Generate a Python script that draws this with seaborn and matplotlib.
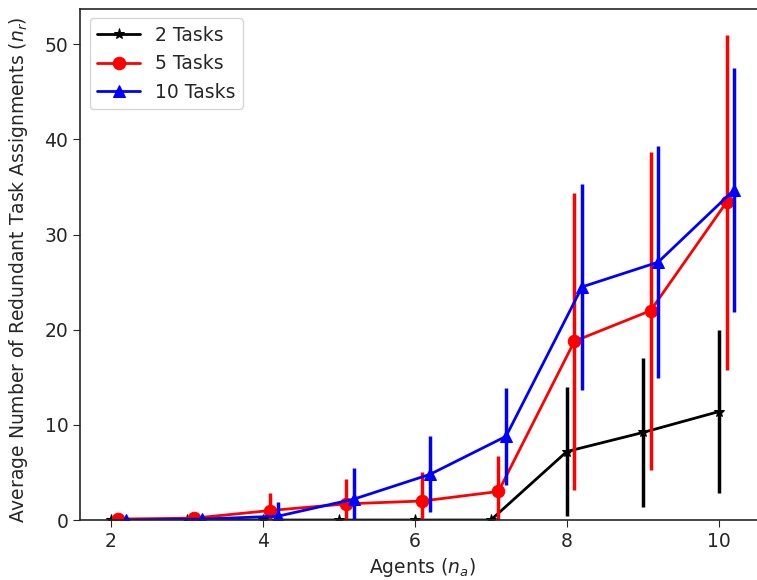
import matplotlib
matplotlib.use("Agg")
import matplotlib.pyplot as plt
import numpy as np
import pandas as pd
import seaborn as sns

agents = [2, 3, 4, 5, 6, 7, 8, 9, 10]

tasks_2 = [0.0, 0.0, 0.0, 0.0, 0.0, 0.0, 7.2, 9.2, 11.4]
tasks_2_err = [0.0, 0.0, 0.0, 0.0, 0.0, 0.0, 6.8, 7.8, 8.6]

tasks_5 = [0.1, 0.2, 1.0, 1.7, 2.0, 3.0, 18.8, 22.0, 33.4]
tasks_5_err = [0.2, 0.3, 1.8, 2.6, 3.0, 3.75, 15.6, 16.7, 17.6]

tasks_10 = [0.0, 0.1, 0.4, 2.2, 4.8, 8.8, 24.5, 27.1, 34.7]
tasks_10_err = [0.1, 0.2, 1.5, 3.3, 4.0, 5.1, 10.8, 12.2, 12.8]

series = [
    ("2 Tasks", tasks_2, tasks_2_err, 0.0, "black", "*"),
    ("5 Tasks", tasks_5, tasks_5_err, 0.1, "red", "o"),
    ("10 Tasks", tasks_10, tasks_10_err, 0.2, "blue", "^"),
]

sns.set_style("ticks")
plt.rcParams["font.family"] = ["DejaVu Sans"]
fs = 13.5

fig = plt.figure(figsize=(7.57, 5.8), dpi=100)
ax = fig.add_axes([0.106, 0.1034, 0.905, 0.881])

for name, vals, errs, shift, color, marker in series:
    x = np.array(agents) + shift
    df = pd.DataFrame({"agents": x, "value": vals})
    ax.errorbar(x, vals, yerr=errs, fmt="none", ecolor=color, elinewidth=2.5, capsize=0)
    sns.lineplot(data=df, x="agents", y="value", ax=ax, color=color, marker=marker,
                 markersize=8 if marker == "*" else 9, markeredgecolor=color,
                 linewidth=2, label=name)

ax.set_xlim(1.6, 10.61)
ax.set_ylim(0, 53.7)
ax.set_xticks([2, 4, 6, 8, 10])
ax.set_yticks([0, 10, 20, 30, 40, 50])
ax.tick_params(labelsize=fs, length=5)
ax.set_xlabel("Agents ($n_a$)", fontsize=fs)
ax.set_ylabel("Average Number of Redundant Task Assignments ($n_r$)", fontsize=fs)
ax.yaxis.set_label_coords(-0.073, 0.49)
for s in ax.spines.values():
    s.set_linewidth(1.2)
ax.legend(loc="upper left", fontsize=fs, handlelength=2.3)

fig.savefig("out.png", dpi=100)
